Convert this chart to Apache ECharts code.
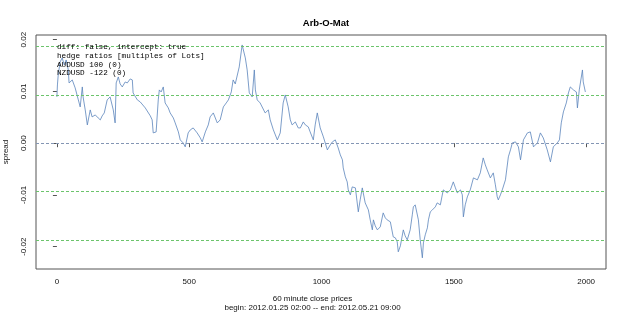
<!DOCTYPE html>
<html>
<head>
<meta charset="utf-8">
<script src="https://cdn.jsdelivr.net/npm/echarts@6/dist/echarts.min.js"></script>
<style>
  body { margin: 0; background: #fff; }
  #main { width: 625px; height: 314px; }
</style>
</head>
<body>
<div id="main"></div>
<script>
// index of the 60 minute bar
var hourIdx = [0,2,5,12,20,28,35,43,46,58,69,81,88,96,99,107,115,126,133,145,
  156,164,171,179,190,201,213,220,224,232,239,247,258,266,277,285,288,304,315,322,
  334,341,353,360,364,375,383,387,394,402,409,421,428,440,447,459,466,477,485,496,
  504,515,530,542,549,561,572,579,591,606,617,629,640,648,659,666,674,681,689,700,
  712,719,727,738,746,750,757,768,787,799,806,818,833,844,855,863,874,882,889,901,
  912,920,931,939,950,957,969,976,984,995,1007,1022,1033,1041,1052,1063,1071,1079,1082,1090,
  1097,1101,1109,1116,1128,1139,1146,1154,1165,1177,1184,1192,1196,1203,1211,1222,1233,1241,1248,1260,
  1271,1279,1286,1290,1298,1305,1309,1316,1324,1335,1343,1347,1354,1366,1373,1381,1385,1392,1400,1404,
  1411,1419,1430,1437,1449,1460,1475,1487,1498,1506,1513,1525,1532,1536,1543,1551,1562,1574,1589,1600,
  1611,1619,1626,1638,1649,1657,1664,1668,1676,1683,1695,1706,1714,1721,1733,1744,1752,1755,1763,1778,
  1789,1801,1816,1827,1838,1853,1865,1876,1891,1899,1906,1914,1925,1933,1940,1952,1963,1967,1974,1986,
  1989,1997];

// spread at that bar
var spread = [0.00894,0.01125,0.01319,0.01569,0.01647,0.01512,0.01608,0.01415,0.01164,0.01222,
  0.01068,0.00836,0.00701,0.01087,0.00894,0.00643,0.00353,0.00643,0.00508,0.00546,
  0.00488,0.00450,0.00527,0.00585,0.00836,0.00894,0.00643,0.00392,0.01164,0.01280,
  0.01145,0.01087,0.01183,0.01164,0.01241,0.01222,0.00971,0.00836,0.00797,0.00778,
  0.00681,0.00643,0.00527,0.00450,0.00199,0.00218,0.00836,0.01029,0.00990,0.01087,
  0.00778,0.00681,0.00585,0.00488,0.00392,0.00218,0.00064,0.00006,-0.00071,0.00199,
  0.00257,0.00295,0.00199,0.00102,0.00025,0.00218,0.00353,0.00508,0.00585,0.00392,
  0.00450,0.00701,0.00778,0.00836,0.00990,0.01222,0.01145,0.01125,0.01473,0.01898,
  0.01647,0.01415,0.00971,0.00894,0.01415,0.01029,0.00836,0.00778,0.00585,0.00643,
  0.00450,0.00257,0.00064,0.00199,0.00778,0.00932,0.00701,0.00450,0.00353,0.00411,
  0.00295,0.00295,0.00411,0.00353,0.00315,0.00218,0.00064,0.00353,0.00585,0.00295,
  0.00122,-0.00129,-0.00033,0.00025,0.00064,-0.00091,-0.00226,-0.00322,-0.00477,-0.00651,
  -0.00747,-0.00902,-0.00998,-0.00844,-0.00863,-0.01326,-0.01095,-0.00863,-0.01153,-0.01288,
  -0.01481,-0.01674,-0.01481,-0.01597,-0.01674,-0.01616,-0.01346,-0.01442,-0.01481,-0.01519,
  -0.01809,-0.01828,-0.01905,-0.02098,-0.01983,-0.02002,-0.01674,-0.01790,-0.01867,-0.01674,
  -0.01384,-0.01230,-0.01191,-0.01481,-0.01867,-0.02214,-0.01925,-0.01770,-0.01635,-0.01481,
  -0.01326,-0.01288,-0.01230,-0.01153,-0.01191,-0.00902,-0.00959,-0.00902,-0.00747,-0.00863,
  -0.00959,-0.00902,-0.00998,-0.01423,-0.01191,-0.01037,-0.00902,-0.00670,-0.00708,-0.00573,
  -0.00284,-0.00419,-0.00515,-0.00670,-0.00573,-0.00805,-0.01037,-0.01095,-0.00998,-0.00902,
  -0.00708,-0.00264,-0.00129,0.00006,0.00025,-0.00071,-0.00322,-0.00322,0.00064,0.00199,
  0.00218,-0.00071,0.00006,0.00199,0.00102,-0.00129,-0.00361,-0.00071,0.00006,0.00064,
  0.00392,0.00604,0.00778,0.00971,0.01087,0.01029,0.00990,0.00681,0.01029,0.01415,
  0.01183,0.00990];

// mean line and +-1 / +-2 sd bands
var meanLevel = 0;
var sdBands = [0.01865, 0.00932, -0.00932, -0.01865];

var xTicks = [0, 500, 1000, 1500, 2000];
var yTicks = [-0.02, -0.01, 0, 0.01, 0.02];

var infoLines = [
  'diff: false, intercept: true',
  'hedge ratios [multiples of Lots]',
  'AUDUSD 100 (0)',
  'NZDUSD -122 (0)'
];

var chart = echarts.init(document.getElementById('main'));

var points = [];
for (var i = 0; i < hourIdx.length; i++) {
  points.push([hourIdx[i], spread[i]]);
}

var txt = '#111';
var font = 'Liberation Sans, Arial, sans-serif';

// 水平参考线：均值与 ±1/±2 标准差（precision 要调高，否则会被取整到 0.01）
function refLines(values, color) {
  return {
    type: 'line',
    data: [],
    markLine: {
      silent: true,
      symbol: 'none',
      precision: 6,
      animation: false,
      label: { show: false },
      emphasis: { disabled: true },
      lineStyle: { color: color, type: [3, 2], width: 1, opacity: 1 },
      data: values.map(function (v) { return { yAxis: v }; })
    },
    z: 2
  };
}

var option = {
  animation: false,
  backgroundColor: '#fff',
  title: {
    text: 'Arb-O-Mat',
    left: 321,
    top: 13,
    textAlign: 'center',
    textStyle: { fontSize: 9.5, fontWeight: 'bold', color: '#000', fontFamily: font }
  },
  grid: {
    left: 36, top: 35, right: 19, bottom: 45,
    outerBoundsMode: 'none',
    containLabel: false,
    show: true, borderColor: '#555', borderWidth: 1, backgroundColor: 'transparent'
  },
  xAxis: {
    type: 'value',
    min: -79, max: 2075,
    axisLine: { show: false },
    splitLine: { show: false },
    axisTick: { show: true, length: 4, customValues: xTicks, lineStyle: { color: '#555' } },
    axisLabel: {
      customValues: xTicks, margin: 9, fontSize: 8, color: txt, fontFamily: font,
      formatter: function (v) { return String(v); }
    }
  },
  yAxis: {
    type: 'value',
    min: -0.0243, max: 0.0209,
    name: 'spread',
    nameLocation: 'middle',
    nameGap: 26,
    nameRotate: 90,
    nameTextStyle: { fontSize: 8, color: txt, fontFamily: font },
    axisLine: { show: false },
    splitLine: { show: false },
    axisTick: { show: true, length: 4, customValues: yTicks, lineStyle: { color: '#555' } },
    axisLabel: {
      customValues: yTicks, rotate: 90, margin: 8, fontSize: 8, color: txt, fontFamily: font,
      formatter: function (v) { return v.toFixed(2); }
    }
  },
  series: [
    refLines(sdBands, '#6cc46c'),
    refLines([meanLevel], '#8496b4'),
    {
      type: 'line',
      data: points,
      showSymbol: false,
      lineStyle: { color: '#5a84bb', width: 0.8 },
      z: 3
    }
  ],
  graphic: [
    {
      type: 'text', left: 57, top: 43, z: 10,
      style: {
        text: infoLines.join('\n'),
        font: '7.7px "Liberation Mono", "Courier New", monospace',
        lineHeight: 8.6,
        fill: '#000'
      }
    },
    {
      type: 'text', left: 'center', top: 295,
      style: {
        text: '60 minute close prices',
        font: '8px ' + font, fill: txt, textAlign: 'center'
      }
    },
    {
      type: 'text', left: 'center', top: 304,
      style: {
        text: 'begin: 2012.01.25 02:00 -- end: 2012.05.21 09:00',
        font: '8px ' + font, fill: txt, textAlign: 'center'
      }
    }
  ]
};

chart.setOption(option);
</script>
</body>
</html>
